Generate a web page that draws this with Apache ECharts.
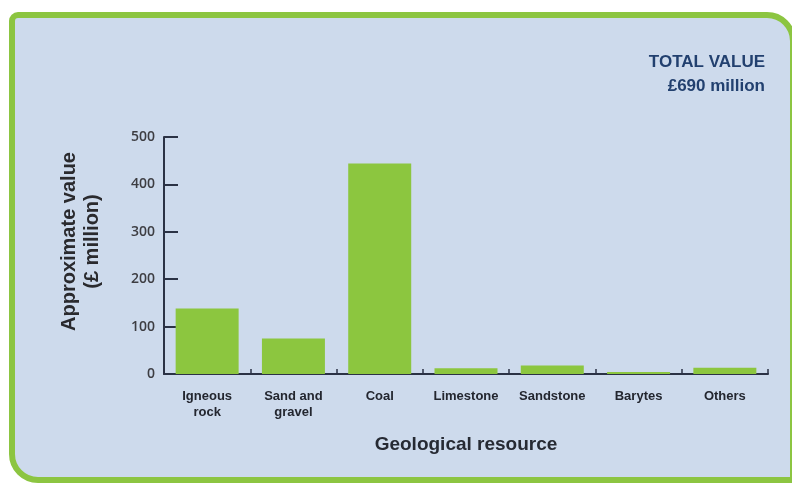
<!DOCTYPE html>
<html><head><meta charset="utf-8">
<script src="https://cdn.jsdelivr.net/npm/echarts@6/dist/echarts.min.js"></script>
<style>html,body{margin:0;padding:0;background:#fff}#c{width:792px;height:484px}</style>
</head><body><div id="c"></div>
<script>
const categories = ['Igneous\nrock', 'Sand and\ngravel', 'Coal', 'Limestone', 'Sandstone', 'Barytes', 'Others'];
const values = [138, 75, 444, 12, 18, 4, 13];
const yTicks = { min: 0, max: 500, interval: 100 };
const totalText = 'TOTAL VALUE\n£690 million';
const yName = 'Approximate value\n(£ million)';
const xName = 'Geological resource';

const chart = echarts.init(document.getElementById('c'), null, { renderer: 'canvas' });
const axisColor = '#2b3245';
chart.setOption({
  animation: false,
  backgroundColor: '#ffffff',
  graphic: [
    { type: 'rect', z: -10, shape: { x: 12, y: 15, width: 781, height: 465, r: [6, 26, 0, 26] },
      style: { fill: '#cddaec', stroke: '#8cc541', lineWidth: 6 } },
    { type: 'text', right: 27, top: 50, z: 10,
      style: { text: totalText, fill: '#22406f', font: 'bold 17px "Liberation Sans", Arial, sans-serif', textAlign: 'right', lineHeight: 24 } }
  ],
  grid: { left: 164, right: 24, top: 137, bottom: 110 },
  xAxis: {
    type: 'category', data: categories,
    name: xName, nameLocation: 'middle', nameGap: 61,
    nameTextStyle: { color: '#262a33', fontFamily: '"Liberation Sans", Arial, sans-serif', fontWeight: 'bold', fontSize: 19 },
    axisLine: { lineStyle: { color: axisColor, width: 2 } },
    axisTick: { show: true, interval: 0, inside: true, length: 5, lineStyle: { color: axisColor, width: 1.5 } },
    axisLabel: { interval: 0, color: '#23262f', fontFamily: '"Liberation Sans", Arial, sans-serif', fontWeight: 'bold', fontSize: 13, lineHeight: 16, margin: 14 }
  },
  yAxis: {
    type: 'value', min: yTicks.min, max: yTicks.max, interval: yTicks.interval,
    name: yName, nameLocation: 'middle', nameGap: 60, nameRotate: 90,
    nameTextStyle: { color: '#2a2a2e', fontFamily: '"Liberation Sans", Arial, sans-serif', fontWeight: 'bold', fontSize: 20, lineHeight: 23, padding: [0, 0, 0, 28] },
    splitLine: { show: false },
    axisLine: { show: true, lineStyle: { color: axisColor, width: 2 } },
    axisTick: { show: true, inside: true, length: 14, lineStyle: { color: axisColor, width: 2 } },
    axisLabel: { color: '#3d3d42', fontFamily: '"Open Sans", sans-serif', fontWeight: 600, fontSize: 14, margin: 9 }
  },
  series: [{
    type: 'bar', data: values, barCategoryGap: '27%',
    itemStyle: { color: '#8cc63f' }
  }]
});
</script></body></html>
